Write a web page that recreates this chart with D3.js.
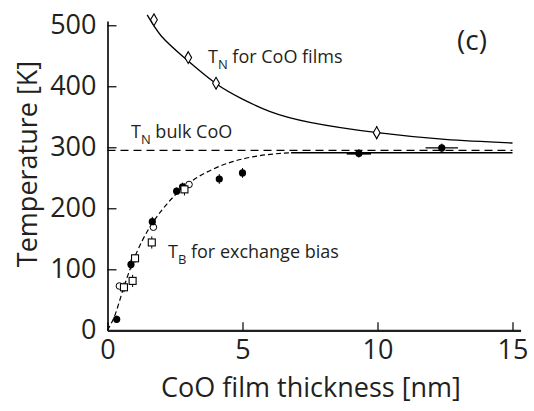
<!DOCTYPE html>
<html><head><meta charset="utf-8">
<script src="https://cdn.jsdelivr.net/npm/d3@7"></script>
<style>
body{margin:0;background:#fff;}
svg{display:block;font-family:"Open Sans",sans-serif;}
</style></head>
<body><svg id="c" width="534" height="411"></svg>
<script>
// ---- data ----
const xTicks = [0, 5, 10, 15];
const yTicks = [0, 100, 200, 300, 400, 500];

// T_N for CoO films (open diamonds)
const tnX   = [1.72, 2.99, 4.02, 9.97];
const tnT   = [509, 447, 405, 324];
const tnErr = [7, 8, 6, 11];
// fitted T_N curve (solid)
const tnCurveX = [1.47, 2.0, 2.84, 4.0, 5.0, 6.0, 7.5, 10.0, 12.5, 15.0];
const tnCurveT = [517, 482, 447, 405, 379, 359, 341, 324, 313, 307];

// T_B filled circles
const fcX    = [0.34, 0.87, 1.66, 2.56, 2.78, 4.14, 5.0, 9.31, 12.38];
const fcT    = [18, 108, 178, 228, 235, 248, 258, 290, 299];
const fcErr  = [6, 8, 8, 6, 7, 8, 8, 7, 7];
const fcXErr = [0, 0, 0, 0, 0, 0, 0, 0.45, 0.6];
// T_B open squares
const sqX   = [0.61, 0.93, 1.02, 1.64, 2.85];
const sqT   = [70.5, 81, 118, 144, 231];
const sqErr = [8, 10, 7, 10, 10];
// T_B open circles
const ocX   = [0.44, 1.70, 3.02];
const ocT   = [72.6, 169, 239];
// T_B dashed guide curve
const tbCurveX = [0, 0.25, 0.6, 0.9, 1.3, 1.7, 2.2, 2.7, 3.3, 3.9, 4.6, 5.6, 6.8];
const tbCurveT = [0, 22, 70, 108, 148, 178, 207, 230, 250, 264, 276, 286, 291];
// horizontal reference lines
const bulkTN = 295;          // dashed, T_N bulk CoO
const bulkLineX = [0, 15.0];
const plateauT = 291;        // solid plateau of T_B
const plateauX = [6.8, 15.0];

// ---- drawing ----
const svg = d3.select("#c");
const x = d3.scaleLinear().domain([0, 15.3]).range([107.5, 520.6]);
const y = d3.scaleLinear().domain([0, 507]).range([330.3, 21]);

const line = d3.line().x(d => x(d[0])).y(d => y(d[1])).curve(d3.curveNatural);

// bulk dashed line
svg.append("line").attr("x1", x(bulkLineX[0])).attr("x2", x(bulkLineX[1]))
  .attr("y1", y(bulkTN)).attr("y2", y(bulkTN))
  .attr("stroke", "#000").attr("stroke-width", 1.2).attr("stroke-dasharray", "8,5");
// plateau solid line
svg.append("line").attr("x1", x(plateauX[0])).attr("x2", x(plateauX[1]))
  .attr("y1", y(plateauT)).attr("y2", y(plateauT))
  .attr("stroke", "#000").attr("stroke-width", 1.3);

// TN curve
svg.append("path").datum(tnCurveX.map((v, i) => [v, tnCurveT[i]]))
  .attr("d", line).attr("fill", "none").attr("stroke", "#000").attr("stroke-width", 1.3);
// TB dashed curve
svg.append("path").datum(tbCurveX.map((v, i) => [v, tbCurveT[i]]))
  .attr("d", d3.line().x(d => x(d[0])).y(d => y(d[1])).curve(d3.curveMonotoneX))
  .attr("fill", "none").attr("stroke", "#000").attr("stroke-width", 1.2)
  .attr("stroke-dasharray", "5,3");

// axes
const yAxis = d3.axisLeft(y).tickValues(yTicks).tickSizeInner(-9).tickSizeOuter(0).tickPadding(11);
const gy = svg.append("g").attr("transform", `translate(${x(0)},0)`).call(yAxis);
gy.select(".domain").attr("stroke-width", 1.6);
gy.selectAll(".tick line").attr("stroke-width", 1.2);
gy.selectAll("text").attr("font-size", 27).attr("fill", "#231f20").attr("font-family", "Open Sans");

const xAxis = d3.axisBottom(x).tickValues(xTicks).tickSizeInner(-8).tickSizeOuter(0).tickPadding(10);
const gx = svg.append("g").attr("transform", `translate(0,${y(0)})`).call(xAxis);
gx.select(".domain").attr("stroke-width", 2.2).attr("stroke", "#231f20");
gx.selectAll(".tick line").attr("stroke-width", 1.2);
gx.selectAll("text").attr("font-size", 27).attr("fill", "#231f20").attr("font-family", "Open Sans");

// error bars
function vbar(px, py, e) {
  svg.append("line").attr("x1", x(px)).attr("x2", x(px)).attr("y1", y(py - e)).attr("y2", y(py + e))
    .attr("stroke", "#000").attr("stroke-width", 1);
}
function hbar(px, py, e, w) {
  svg.append("line").attr("x1", x(px - e)).attr("x2", x(px + e)).attr("y1", y(py)).attr("y2", y(py))
    .attr("stroke", "#000").attr("stroke-width", w);
}
tnX.forEach((v, i) => vbar(v, tnT[i], tnErr[i]));
fcX.forEach((v, i) => { vbar(v, fcT[i], fcErr[i]); if (fcXErr[i] > 0) hbar(v, fcT[i], fcXErr[i], i === 7 ? 2.5 : 1.2); });
sqX.forEach((v, i) => vbar(v, sqT[i], sqErr[i]));

// markers
const diam = d3.symbol().type(d3.symbolDiamond).size(40);
svg.selectAll(".dm").data(tnX.map((v, i) => [v, tnT[i]])).join("path")
  .attr("transform", d => `translate(${x(d[0])},${y(d[1])})`).attr("d", diam)
  .attr("fill", "#fff").attr("stroke", "#000").attr("stroke-width", 1.1);
svg.selectAll(".oc").data(ocX.map((v, i) => [v, ocT[i]])).join("circle")
  .attr("cx", d => x(d[0])).attr("cy", d => y(d[1])).attr("r", 3.3)
  .attr("fill", "#fff").attr("stroke", "#000").attr("stroke-width", 1);
svg.selectAll(".fc").data(fcX.map((v, i) => [v, fcT[i]])).join("circle")
  .attr("cx", d => x(d[0])).attr("cy", d => y(d[1])).attr("r", 3.6).attr("fill", "#000");
svg.selectAll(".sq").data(sqX.map((v, i) => [v, sqT[i]])).join("rect")
  .attr("x", d => x(d[0]) - 3.5).attr("y", d => y(d[1]) - 3.5).attr("width", 7).attr("height", 7)
  .attr("fill", "#fff").attr("stroke", "#000").attr("stroke-width", 1.1);

// text labels
function sublabel(tx, ty, main, sub, rest, fs) {
  const t = svg.append("text").attr("x", tx).attr("y", ty).attr("font-size", fs).attr("fill", "#231f20");
  t.append("tspan").text(main);
  t.append("tspan").attr("font-size", fs * 0.72).attr("dy", fs * 0.32).text(sub);
  t.append("tspan").attr("dy", -fs * 0.32).text(rest);
}
sublabel(208, 63, "T", "N", " for CoO films", 18);
sublabel(131, 138, "T", "N", " bulk CoO", 18);
sublabel(168, 258, "T", "B", " for exchange bias", 18);

svg.append("text").attr("x", 472).attr("y", 50).attr("text-anchor", "middle")
  .attr("font-size", 28).attr("fill", "#231f20").text("(c)");

svg.append("text").attr("x", 311).attr("y", 397).attr("text-anchor", "middle")
  .attr("font-size", 27).attr("fill", "#231f20").text("CoO film thickness [nm]");
svg.append("text").attr("transform", "translate(37,164) rotate(-90)").attr("text-anchor", "middle")
  .attr("font-size", 27).attr("fill", "#231f20").text("Temperature [K]");
</script></body></html>
